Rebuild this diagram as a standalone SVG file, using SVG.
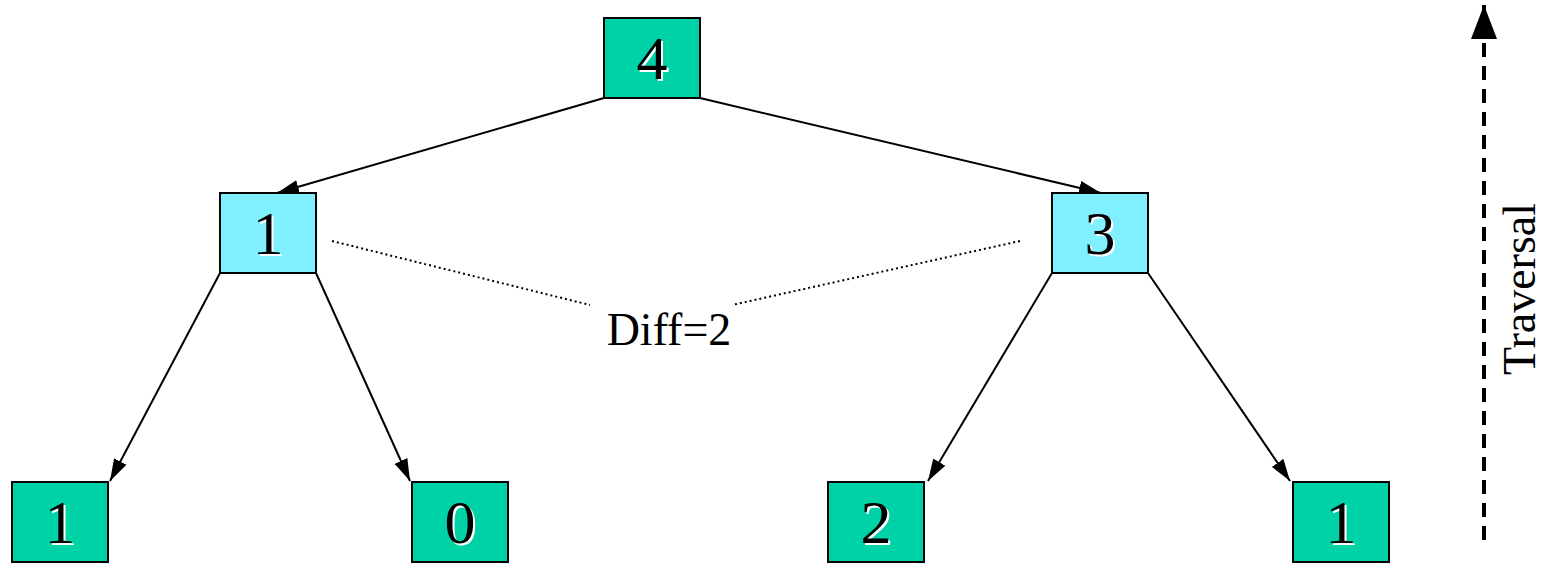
<svg xmlns="http://www.w3.org/2000/svg" width="1545" height="563" viewBox="0 0 1545 563">
  <style>
    .leaf { fill: #00d2a8; stroke: #000; stroke-width: 2; }
    .inner { fill: #80f0ff; stroke: #000; stroke-width: 2; }
    .num { font-family: "Liberation Serif", "Times New Roman", serif; font-size: 62px; text-anchor: middle; }
    .shadow { fill: #fff; }
    .ink { fill: #000; }
    .edge { stroke: #000; stroke-width: 2; fill: none; marker-end: url(#head); }
    .diff { stroke: #000; stroke-width: 2; stroke-dasharray: 2 3; fill: none; }
    .label { font-family: "Liberation Serif", "Times New Roman", serif; font-size: 46px; }
  </style>
  <defs>
    <marker id="head" viewBox="0 0 22 14" refX="22" refY="7" markerWidth="22" markerHeight="14" markerUnits="userSpaceOnUse" orient="auto">
      <path d="M0,0 L22,7 L0,14 Z" fill="#000"/>
    </marker>
    <marker id="bighead" viewBox="0 0 34 26" refX="34" refY="13" markerWidth="34" markerHeight="26" markerUnits="userSpaceOnUse" orient="auto">
      <path d="M0,0 L34,13 L0,26 Z" fill="#000"/>
    </marker>
  </defs>

  <!-- tree edges and difference markers -->
  <g id="connectors">
    <line class="edge" x1="604" y1="98" x2="277" y2="193"/>
    <line class="edge" x1="700" y1="98" x2="1101" y2="193"/>
    <line class="edge" x1="220" y1="273" x2="110" y2="481"/>
    <line class="edge" x1="316" y1="273" x2="410" y2="481"/>
    <line class="edge" x1="1052" y1="273" x2="928" y2="481"/>
    <line class="edge" x1="1148" y1="273" x2="1290" y2="481"/>
    <line class="diff" x1="332" y1="241" x2="590" y2="305"/>
    <line class="diff" x1="1020" y1="241" x2="732" y2="305"/>
  </g>

  <g id="n-root">
    <rect class="leaf" x="604" y="18" width="96" height="80"/>
    <text class="num shadow" x="654" y="81">4</text>
    <text class="num ink" x="652" y="79">4</text>
  </g>
  <g id="n-left">
    <rect class="inner" x="220" y="193" width="96" height="80"/>
    <text class="num shadow" x="270" y="256">1</text>
    <text class="num ink" x="268" y="254">1</text>
  </g>
  <g id="n-right">
    <rect class="inner" x="1052" y="193" width="96" height="80"/>
    <text class="num shadow" x="1102" y="256">3</text>
    <text class="num ink" x="1100" y="254">3</text>
  </g>
  <g id="n-ll">
    <rect class="leaf" x="12" y="482" width="96" height="80"/>
    <text class="num shadow" x="62" y="545">1</text>
    <text class="num ink" x="60" y="543">1</text>
  </g>
  <g id="n-lr">
    <rect class="leaf" x="412" y="482" width="96" height="80"/>
    <text class="num shadow" x="462" y="545">0</text>
    <text class="num ink" x="460" y="543">0</text>
  </g>
  <g id="n-rl">
    <rect class="leaf" x="828" y="482" width="96" height="80"/>
    <text class="num shadow" x="878" y="545">2</text>
    <text class="num ink" x="876" y="543">2</text>
  </g>
  <g id="n-rr">
    <rect class="leaf" x="1293" y="482" width="96" height="80"/>
    <text class="num shadow" x="1343" y="545">1</text>
    <text class="num ink" x="1341" y="543">1</text>
  </g>

  <g id="diff-label">
    <text class="label" x="669" y="345" text-anchor="middle" font-size="48">Diff=2</text>
  </g>

  <!-- traversal direction -->
  <g id="traversal">
    <line x1="1484" y1="540" x2="1484" y2="5" stroke="#000" stroke-width="4" stroke-dasharray="14 9" marker-end="url(#bighead)"/>
    <text class="label" transform="translate(1535,289) rotate(-90)" text-anchor="middle">Traversal</text>
  </g>
</svg>
